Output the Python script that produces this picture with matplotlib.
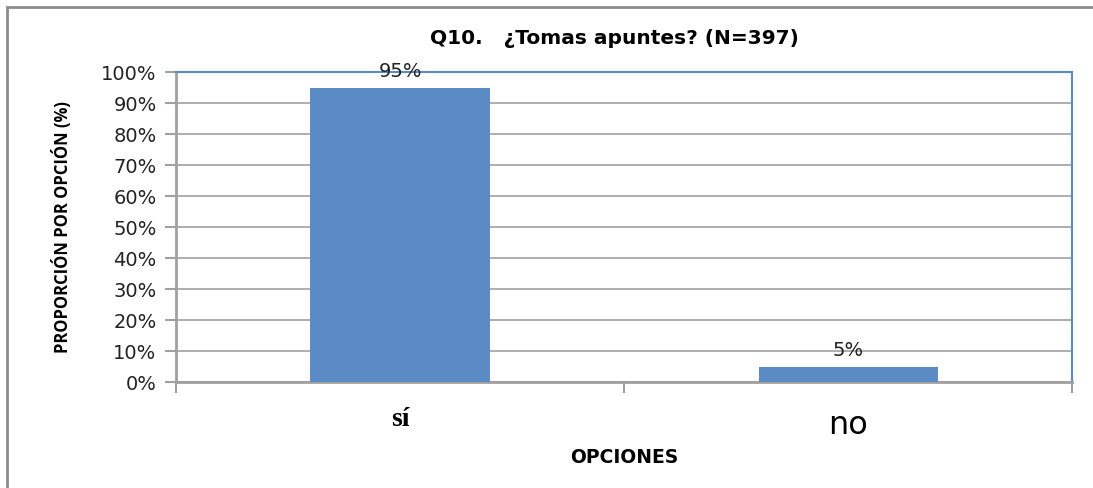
import matplotlib.pyplot as plt
from matplotlib.patches import Rectangle
from matplotlib.ticker import PercentFormatter

# data
opciones = ['sí', 'no']
proporcion = [95, 5]

bar_color = '#5B8BC5'
grid_color = '#A0A0A0'
blue_edge = '#5B8BC5'

fig = plt.figure(figsize=(10.93, 4.88), dpi=100)
ax = fig.add_axes([0.161, 0.217, 0.820, 0.635])

x = range(len(opciones))
ax.bar(x, proporcion, width=0.4, color=bar_color, zorder=3)

for xi, v in zip(x, proporcion):
    ax.annotate('{}%'.format(v), (xi, v), xytext=(0, 5), textcoords='offset points',
                ha='center', va='bottom', fontsize=14, family='DejaVu Sans',
                color='#222222', zorder=4)

ax.set_xlim(-0.5, 1.5)
ax.set_ylim(0, 100)
ax.set_yticks(range(0, 101, 10))
ax.yaxis.set_major_formatter(PercentFormatter(decimals=0))
ax.grid(axis='y', color=grid_color, linewidth=1.2, zorder=0)
ax.set_axisbelow(True)

# x ticks between categories, labels under the bars
ax.set_xticks([-0.5, 0.5, 1.5])
ax.set_xticklabels([])
ax.set_xticks(list(x), minor=True)
ax.set_xticklabels(opciones, minor=True)
ax.tick_params(axis='x', which='minor', length=0, pad=18)
ax.tick_params(axis='x', which='major', length=8, width=1.5, color=grid_color)
ax.tick_params(axis='y', length=8, width=1.5, color=grid_color, labelsize=14,
               labelcolor='#222222', pad=6)

labs = ax.get_xticklabels(minor=True)
labs[0].set_family('Liberation Serif')
labs[0].set_fontweight('bold')
labs[0].set_fontsize(20)
labs[1].set_family('DejaVu Sans')
labs[1].set_fontsize(23)
labs[1].set_y(-0.01)

for side in ['left', 'bottom']:
    ax.spines[side].set_color(grid_color)
    ax.spines[side].set_linewidth(2)
for side in ['top', 'right']:
    ax.spines[side].set_color(blue_edge)
    ax.spines[side].set_linewidth(1.5)

ax.set_title('Q10.   ¿Tomas apuntes? (N=397)', fontsize=14.5, fontweight='bold',
             family='DejaVu Sans', pad=20, x=0.489)
ax.set_xlabel('OPCIONES', fontsize=13.5, fontweight='bold', family='DejaVu Sans', labelpad=5)
ax.set_ylabel('PROPORCIÓN POR OPCIÓN (%)', fontsize=12, fontweight='bold',
              family='Open Sans', labelpad=21)

# outer chart frame
fig.patches.append(Rectangle((7 / 1093, -0.01), 1.0, 1 - 7 / 488 + 0.01,
                             transform=fig.transFigure, fill=False,
                             edgecolor='#8C8C8C', linewidth=2))

fig.savefig('out.png', dpi=100)
